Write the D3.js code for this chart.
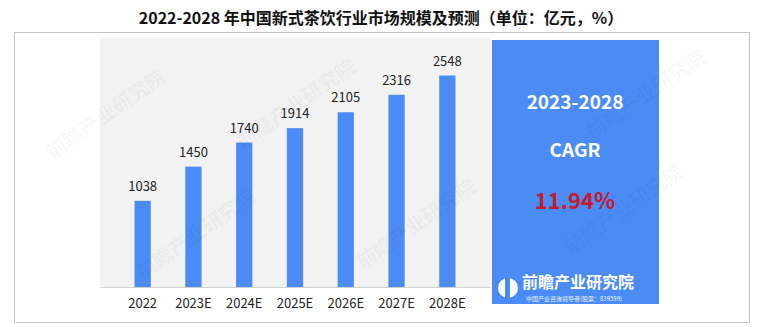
<!DOCTYPE html>
<html>
<head>
<meta charset="utf-8">
<script src="https://cdn.jsdelivr.net/npm/d3@7"></script>
<style>
  body { margin: 0; background: #fff; }
  svg text { font-family: "Noto Sans CJK SC", "Noto Sans", sans-serif; }
</style>
</head>
<body>
<svg id="chart" width="760" height="327"></svg>
<script>
var years = ["2022", "2023E", "2024E", "2025E", "2026E", "2027E", "2028E"];
var marketSize = [1038, 1450, 1740, 1914, 2105, 2316, 2548];
var cagrPeriod = "2023-2028";
var cagrValue = "11.94%";
var titleText = "2022-2028 年中国新式茶饮行业市场规模及预测（单位：亿元，%）";

var svg = d3.select("#chart");
var blue = "#4b8bf6";

// title
svg.append("text")
    .attr("x", 381).attr("y", 24)
    .attr("text-anchor", "middle")
    .attr("font-size", 16).attr("font-weight", "bold")
    .attr("fill", "#111")
    .text(titleText);

// outer dotted frame
svg.append("rect")
    .attr("x", 14.5).attr("y", 32.5)
    .attr("width", 735).attr("height", 290)
    .attr("fill", "none")
    .attr("stroke", "#888")
    .attr("stroke-dasharray", "1,1");

var plot = {left: 100, right: 490, top: 38, bottom: 287};

svg.append("rect")
    .attr("x", plot.left).attr("y", plot.top)
    .attr("width", plot.right - plot.left).attr("height", plot.bottom - plot.top)
    .attr("fill", "#f2f2f2");

var x = d3.scaleBand().domain(years).range([plot.left, plot.right]).padding(0.68);
var y = d3.scaleLinear().domain([0, 3000]).range([plot.bottom, plot.top]);

var g = svg.append("g");

g.selectAll("rect.bar")
    .data(marketSize)
    .enter().append("rect")
    .attr("class", "bar")
    .attr("x", function(d, i) { return x(years[i]); })
    .attr("y", function(d) { return y(d); })
    .attr("width", x.bandwidth())
    .attr("height", function(d) { return y(0) - y(d); })
    .attr("fill", blue);

g.selectAll("text.val")
    .data(marketSize)
    .enter().append("text")
    .attr("class", "val")
    .attr("x", function(d, i) { return x(years[i]) + x.bandwidth() / 2; })
    .attr("y", function(d) { return y(d) - 10; })
    .attr("text-anchor", "middle")
    .attr("font-size", 13)
    .attr("fill", "#222")
    .text(function(d) { return d; });

var xAxis = svg.append("g")
    .attr("transform", "translate(0," + plot.bottom + ")")
    .call(d3.axisBottom(x).tickSize(0).tickPadding(12));
xAxis.select(".domain").attr("stroke", "#d0d0d0");
xAxis.selectAll("text")
    .attr("font-size", 13)
    .attr("fill", "#222")
    .attr("font-family", "\"Noto Sans CJK SC\", sans-serif");

// CAGR panel
var panel = svg.append("g");
panel.append("rect")
    .attr("x", 492).attr("y", 40)
    .attr("width", 167).attr("height", 264)
    .attr("fill", blue);

var cx = 575;
panel.append("text")
    .attr("x", cx).attr("y", 109)
    .attr("text-anchor", "middle")
    .attr("font-size", 19).attr("font-weight", "bold")
    .attr("fill", "#fff")
    .text(cagrPeriod);
panel.append("text")
    .attr("x", cx).attr("y", 157)
    .attr("text-anchor", "middle")
    .attr("font-size", 19).attr("font-weight", "bold")
    .attr("fill", "#fff")
    .text("CAGR");
panel.append("text")
    .attr("x", cx).attr("y", 209)
    .attr("text-anchor", "middle")
    .attr("font-size", 22).attr("font-weight", "bold")
    .attr("fill", "#c41a2b")
    .text(cagrValue);

// logo
panel.append("circle")
    .attr("cx", 508).attr("cy", 288).attr("r", 10)
    .attr("fill", "#fff");
panel.append("rect")
    .attr("x", 505).attr("y", 276).attr("width", 5).attr("height", 24)
    .attr("fill", blue);
panel.append("text")
    .attr("x", 522).attr("y", 288)
    .attr("font-size", 16).attr("font-weight", "bold")
    .attr("fill", "#fff")
    .text("前瞻产业研究院");
panel.append("text")
    .attr("x", 526).attr("y", 301)
    .attr("font-size", 6)
    .attr("fill", "#e8f0ff")
    .text("中国产业咨询领导者(股票：839599)");

// faint watermarks, kept inside the frame
var marks = [[110, 120], [300, 110], [200, 240], [420, 230], [628, 215], [650, 100]];
svg.selectAll("text.wm")
    .data(marks)
    .enter().append("text")
    .attr("class", "wm")
    .attr("transform", function(d) { return "translate(" + d[0] + "," + d[1] + ") rotate(-35)"; })
    .attr("text-anchor", "middle")
    .attr("font-size", 20).attr("font-weight", "bold")
    .attr("fill", "#000").attr("fill-opacity", 0.035)
    .text("前瞻产业研究院");
</script>
</body>
</html>
